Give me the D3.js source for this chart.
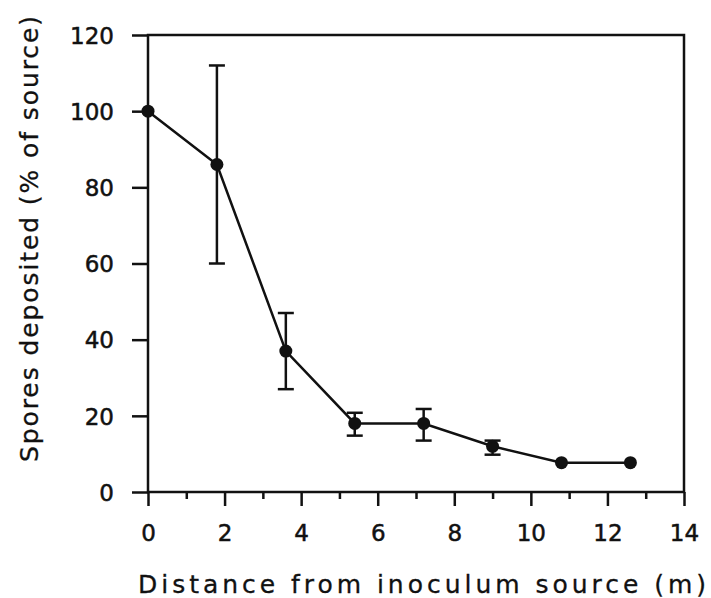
<!DOCTYPE html>
<html><head><meta charset="utf-8">
<script src="https://cdn.jsdelivr.net/npm/d3@7"></script>
<style>body{margin:0;background:#fff}</style>
</head><body>
<svg id="c" width="711" height="598"></svg>
<script>
const distance = [0, 1.8, 3.6, 5.4, 7.2, 9.0, 10.8, 12.6];
const spores   = [100, 86, 37, 18, 18, 12, 7.7, 7.7];
const errLow   = [null, 60, 27, 14.8, 13.5, 9.8, null, null];
const errHigh  = [null, 112, 47, 20.8, 21.8, 13.5, null, null];
const xTicks = [0, 2, 4, 6, 8, 10, 12, 14];
const xMinor = [1, 3, 5, 7, 9, 11, 13];
const yTicks = [0, 20, 40, 60, 80, 100, 120];

const svg = d3.select("#c");
const L = 148, R = 684, T = 35, B = 492;
const x = d3.scaleLinear().domain([0, 14]).range([L, R]);
const y = d3.scaleLinear().domain([0, 120]).range([B, T]);
const font = "'DejaVu Sans', Verdana, sans-serif";

// frame
svg.append("rect").attr("x", L).attr("y", T).attr("width", R - L).attr("height", B - T)
  .attr("fill", "none").attr("stroke", "#111").attr("stroke-width", 2.5);

// x axis
const xa = svg.append("g").attr("transform", `translate(0,${B})`)
  .call(d3.axisBottom(x).tickValues(xTicks).tickSize(14).tickPadding(19).tickFormat(d3.format("d")));
xa.select(".domain").remove();
xa.selectAll("line").attr("stroke", "#111").attr("stroke-width", 2.5);
xa.selectAll("text").attr("font-family", font).attr("font-size", 23).attr("fill", "#111")
  .attr("stroke", "#111").attr("stroke-width", 0.5);
const xm = svg.append("g").attr("transform", `translate(0,${B})`)
  .call(d3.axisBottom(x).tickValues(xMinor).tickSize(7).tickFormat(""));
xm.select(".domain").remove();
xm.selectAll("line").attr("stroke", "#111").attr("stroke-width", 2.5);

// y axis
const ya = svg.append("g").attr("transform", `translate(${L},0)`)
  .call(d3.axisLeft(y).tickValues(yTicks).tickSize(16).tickPadding(18).tickFormat(d3.format("d")));
ya.select(".domain").remove();
ya.selectAll("line").attr("stroke", "#111").attr("stroke-width", 2.5);
ya.selectAll("text").attr("font-family", font).attr("font-size", 23).attr("fill", "#111")
  .attr("stroke", "#111").attr("stroke-width", 0.5).attr("dy", "0.36em");

// error bars
const eb = distance.map((d, i) => ({x: d, lo: errLow[i], hi: errHigh[i]})).filter(d => d.lo != null);
const g = svg.append("g").attr("stroke", "#111").attr("stroke-width", 2.5);
g.selectAll(".v").data(eb).join("line")
  .attr("x1", d => x(d.x)).attr("x2", d => x(d.x)).attr("y1", d => y(d.lo)).attr("y2", d => y(d.hi));
g.selectAll(".t").data(eb).join("line")
  .attr("x1", d => x(d.x) - 8).attr("x2", d => x(d.x) + 8).attr("y1", d => y(d.hi)).attr("y2", d => y(d.hi));
g.selectAll(".b").data(eb).join("line")
  .attr("x1", d => x(d.x) - 8).attr("x2", d => x(d.x) + 8).attr("y1", d => y(d.lo)).attr("y2", d => y(d.lo));

// line
const pts = distance.map((d, i) => [d, spores[i]]);
svg.append("path").datum(pts)
  .attr("d", d3.line().x(d => x(d[0])).y(d => y(d[1])))
  .attr("fill", "none").attr("stroke", "#111").attr("stroke-width", 2.5);
svg.selectAll(".pt").data(pts).join("circle")
  .attr("cx", d => x(d[0])).attr("cy", d => y(d[1])).attr("r", 6.5).attr("fill", "#111");

// titles
svg.append("text").attr("x", 422).attr("y", 593).attr("text-anchor", "middle")
  .attr("font-family", font).attr("font-size", 25).attr("fill", "#111")
  .attr("stroke", "#111").attr("stroke-width", 0.3)
  .attr("textLength", 568).attr("lengthAdjust", "spacing")
  .text("Distance from inoculum source (m)");
svg.append("text").attr("transform", "translate(38,239) rotate(-90)").attr("text-anchor", "middle")
  .attr("font-family", font).attr("font-size", 25).attr("fill", "#111")
  .attr("stroke", "#111").attr("stroke-width", 0.3)
  .attr("textLength", 446).attr("lengthAdjust", "spacing")
  .text("Spores deposited (% of source)");
</script>
</body></html>
